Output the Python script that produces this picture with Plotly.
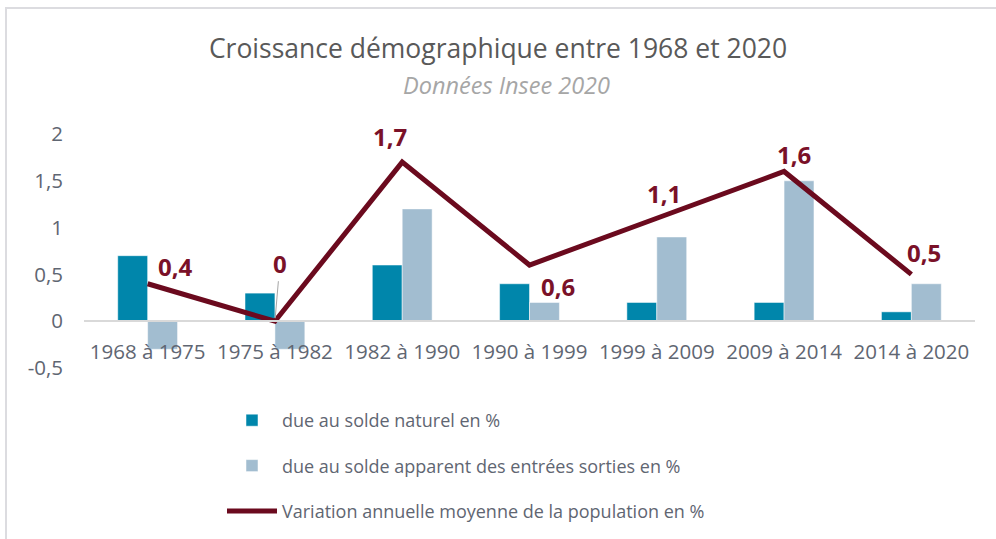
import plotly.graph_objects as go

categories = ["1968 à 1975", "1975 à 1982", "1982 à 1990", "1990 à 1999",
              "1999 à 2009", "2009 à 2014", "2014 à 2020"]
solde_naturel = [0.7, 0.3, 0.6, 0.4, 0.2, 0.2, 0.1]
solde_apparent = [-0.3, -0.3, 1.2, 0.2, 0.9, 1.5, 0.4]
variation = [0.4, 0.0, 1.7, 0.6, 1.1, 1.6, 0.5]
label_texts = ["0,4", "0", "1,7", "0,6", "1,1", "1,6", "0,5"]
y_ticks = [-0.5, 0, 0.5, 1, 1.5, 2]
y_tick_labels = ["-0,5", "0", "0,5", "1", "1,5", "2"]

# label offsets (pixels) relative to each line point
label_dx = [28, 5, -12, 28, 7, 10, 13]
label_dy = [17, 58, 26, -21, 25, 17, 22]

W, H = 996, 539
ML, MR, MT, MB = 84, 21, 134, 171
PW, PH = W - ML - MR, H - MT - MB

def px_x(p):
    return (p - ML) / PW

def px_y(p):
    return (H - MB - p) / PH

TXT = "#5f6672"
MAROON = "#6b0a1e"

fig = go.Figure()
fig.add_trace(go.Bar(x=categories, y=solde_naturel, name="due au solde naturel en %",
                     marker=dict(color="#0086ab", line=dict(color="white", width=0.5)),
                     legendgroup="a"))
fig.add_trace(go.Bar(x=categories, y=solde_apparent,
                     name="due au solde apparent des entrées sorties en %",
                     marker=dict(color="#a2bdd0", line=dict(color="white", width=0.5)),
                     legendgroup="b"))
fig.add_trace(go.Scatter(x=categories, y=variation, mode="lines",
                         name="Variation annuelle moyenne de la population en %",
                         line=dict(color=MAROON, width=5), legendgroup="c"))

LBL_FONT = dict(family="Open Sans", size=24, color="#7a1128", weight="bold")
for i, (c, v, t) in enumerate(zip(categories, variation, label_texts)):
    if i == 1:
        fig.add_annotation(x=c, y=v, text=t, showarrow=True, ax=label_dx[i], ay=-label_dy[i],
                           arrowhead=0, arrowwidth=1, arrowcolor="#a6a6a6", standoff=3,
                           font=LBL_FONT)
    else:
        fig.add_annotation(x=c, y=v, text=t, showarrow=False, xshift=label_dx[i], yshift=label_dy[i],
                           font=LBL_FONT)

fig.add_annotation(xref="paper", yref="paper", x=px_x(506), y=px_y(85), yanchor="middle",
                   xanchor="center", text="<i>Données Insee 2020</i>",
                   showarrow=False, font=dict(family="Open Sans", size=23.5, color="#a6a6a6"))

# frame lines (top and left)
fig.add_shape(type="line", xref="paper", yref="paper", x0=px_x(5), x1=px_x(1000),
              y0=px_y(8), y1=px_y(8), line=dict(color="#dcdce0", width=2))
fig.add_shape(type="line", xref="paper", yref="paper", x0=px_x(6), x1=px_x(6),
              y0=px_y(8), y1=px_y(545), line=dict(color="#dcdce0", width=2))

fig.update_layout(
    width=W, height=H,
    margin=dict(l=ML, r=MR, t=MT, b=MB, autoexpand=False),
    paper_bgcolor="white", plot_bgcolor="white",
    barmode="group", bargap=0.53, bargroupgap=0,
    separators=", ",
    title=dict(text="Croissance démographique entre 1968 et 2020", x=0.5, xanchor="center",
               xref="container", y=1 - 49 / H, yanchor="middle", yref="container",
               font=dict(family="Open Sans", size=26.5, color="#595959")),
    xaxis=dict(anchor="free", position=px_y(321), showline=True, linecolor="#d9d9d9", linewidth=2,
               ticks="", showgrid=False, tickfont=dict(family="Open Sans", size=20.5, color=TXT),
               ticklabelstandoff=12, automargin=False),
    yaxis=dict(range=[-0.5, 2], tickvals=y_ticks, ticktext=y_tick_labels, showgrid=False,
               zeroline=False, showline=False, ticks="", automargin=False,
               ticklabelstandoff=20,
               tickfont=dict(family="Open Sans", size=20.5, color=TXT)),
    legend=dict(orientation="v", x=px_x(222), y=px_y(402), xanchor="left", yanchor="top",
                font=dict(family="Open Sans", size=18, color=TXT), tracegroupgap=19,
                traceorder="grouped", itemwidth=50),
    showlegend=True,
)

fig.write_html("out.html", config={"displayModeBar": False},
               post_script="document.body.style.margin='0';document.body.style.overflow='hidden';")
